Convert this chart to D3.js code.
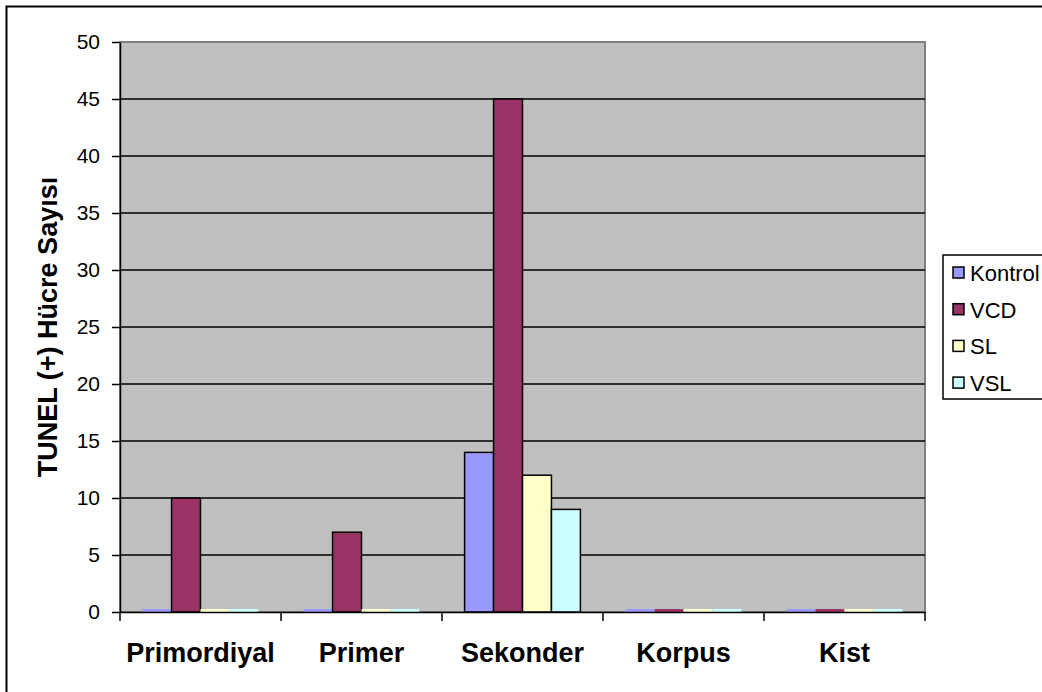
<!DOCTYPE html>
<html>
<head>
<style>
  body { margin: 0; background: #fff; }
  text { font-family: "Liberation Sans", Arial, sans-serif; }
</style>
</head>
<body>
<svg width="1042" height="692"></svg>
<script src="https://d3js.org/d3.v7.min.js"></script>
<script>
var categories = ["Primordiyal", "Primer", "Sekonder", "Korpus", "Kist"];
var seriesNames = ["Kontrol", "VCD", "SL", "VSL"];
var kontrol = [0, 0, 14, 0, 0];
var vcd = [10, 7, 45, 0, 0];
var sl = [0, 0, 12, 0, 0];
var vsl = [0, 0, 9, 0, 0];
var yTicks = [0, 5, 10, 15, 20, 25, 30, 35, 40, 45, 50];
var colors = ["#9999FF", "#993366", "#FFFFCC", "#CCFFFF"];

var allSeries = [kontrol, vcd, sl, vsl];

var svg = d3.select("svg"),
    margin = { top: 42, left: 120 },
    width = 805,
    height = 570;

// outer chart border (continues past the right/bottom edge)
svg.append("rect")
    .attr("x", 6.5).attr("y", 6.5)
    .attr("width", 1060).attr("height", 720)
    .attr("fill", "#fff").attr("stroke", "#000").attr("stroke-width", 2);

var g = svg.append("g").attr("transform", "translate(" + margin.left + "," + margin.top + ")");

var x = d3.scaleBand().domain(categories).range([0, width]);
var x1 = d3.scaleBand().domain(seriesNames).range([0, x.bandwidth()]).paddingOuter(0.78);
var y = d3.scaleLinear().domain([0, 50]).range([height, 0]);

g.append("rect")
    .attr("width", width).attr("height", height)
    .attr("fill", "#C0C0C0").attr("stroke", "#808080").attr("stroke-width", 2);

// gridlines
g.selectAll(".grid")
    .data(yTicks.filter(function (d) { return d > 0 && d < 50; }))
    .enter().append("line")
    .attr("x1", 0).attr("x2", width)
    .attr("y1", function (d) { return y(d); })
    .attr("y2", function (d) { return y(d); })
    .attr("stroke", "#000").attr("stroke-width", 1.5);

// bars
var groups = g.selectAll(".grp")
    .data(categories)
    .enter().append("g")
    .attr("transform", function (d) { return "translate(" + x(d) + ",0)"; });

groups.selectAll("rect")
    .data(function (c, i) {
        return seriesNames.map(function (s, j) { return { s: s, v: allSeries[j][i], c: colors[j] }; });
    })
    .enter().append("rect")
    .attr("x", function (d) { return x1(d.s); })
    .attr("width", x1.bandwidth())
    .attr("y", function (d) { return d.v > 0 ? y(d.v) : y(0) - 3; })
    .attr("height", function (d) { return d.v > 0 ? y(0) - y(d.v) : 3; })
    .attr("fill", function (d) { return d.c; })
    .attr("stroke", function (d) { return d.v > 0 ? "#000" : "none"; })
    .attr("stroke-width", 1.5);

// y axis
var yAxis = g.append("g")
    .call(d3.axisLeft(y).tickValues(yTicks).tickSize(8).tickSizeOuter(0));
yAxis.select(".domain").attr("stroke", "#000").attr("stroke-width", 1.5);
yAxis.selectAll(".tick line").attr("stroke-width", 1.5);
yAxis.selectAll(".tick text")
    .attr("x", -20)
    .style("font-size", "21px")
    .attr("fill", "#000");

// x axis
var xAxis = g.append("g")
    .attr("transform", "translate(0," + height + ")")
    .call(d3.axisBottom(x).tickSize(0).tickSizeOuter(0));
xAxis.select(".domain").attr("stroke", "#000").attr("stroke-width", 1.5);
xAxis.selectAll(".tick text")
    .attr("y", 50)
    .attr("dy", 0)
    .attr("font-size", "27px")
    .attr("font-weight", "bold")
    .attr("fill", "#000");

// category separator ticks
g.selectAll(".sep")
    .data(categories.concat(["end"]))
    .enter().append("line")
    .attr("x1", function (d, i) { return i * x.step(); })
    .attr("x2", function (d, i) { return i * x.step(); })
    .attr("y1", height)
    .attr("y2", height + 9)
    .attr("stroke", "#000").attr("stroke-width", 1.5);

// y axis title
svg.append("text")
    .attr("transform", "translate(57," + (margin.top + height / 2) + ") rotate(-90)")
    .attr("text-anchor", "middle")
    .attr("font-size", "27px")
    .attr("font-weight", "bold")
    .text("TUNEL (+) Hücre Sayısı");

// legend
var legend = svg.append("g").attr("transform", "translate(943,255)");
legend.append("rect")
    .attr("width", 110).attr("height", 144)
    .attr("fill", "#fff").attr("stroke", "#000").attr("stroke-width", 1.5);

var items = legend.selectAll(".item")
    .data(seriesNames)
    .enter().append("g")
    .attr("transform", function (d, i) { return "translate(0," + (18 + i * 36.7) + ")"; });

items.append("rect")
    .attr("x", 10).attr("y", -6)
    .attr("width", 11).attr("height", 11)
    .attr("fill", function (d, i) { return colors[i]; })
    .attr("stroke", "#000").attr("stroke-width", 1.5);

items.append("text")
    .attr("x", 27).attr("y", 8)
    .attr("font-size", "22px")
    .text(function (d) { return d; });
</script>
</body>
</html>
